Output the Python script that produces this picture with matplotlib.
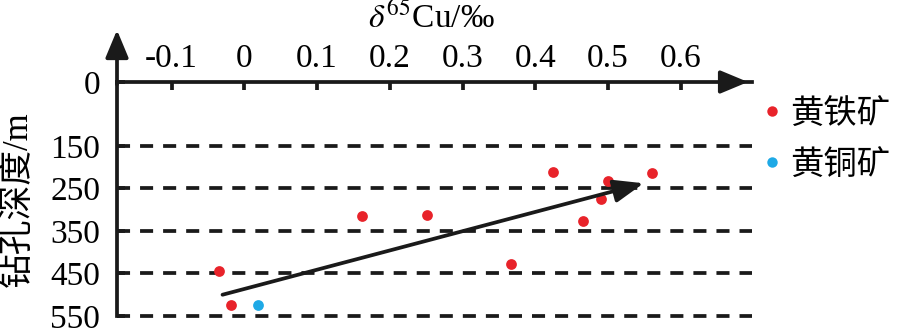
import matplotlib
matplotlib.use("Agg")
import matplotlib.pyplot as plt
from matplotlib.lines import Line2D

plt.rcParams['font.family'] = ['Liberation Serif', 'Noto Sans CJK SC']
plt.rcParams['mathtext.fontset'] = 'stix'
plt.rcParams['lines.scale_dashes'] = False

# pyrite (黄铁矿) samples: d65Cu (permil), drill depth (m)
py_cu = [-0.035, -0.018, 0.162, 0.251, 0.367, 0.424, 0.466, 0.491, 0.500, 0.561]
py_depth = [444, 524, 315, 313, 428, 212, 327, 275, 233, 214]
# chalcopyrite (黄铜矿)
cp_cu = [0.019]
cp_depth = [524]

# trend arrow
trend_start = (-0.030, 500)
trend_end = (0.549, 238)

xticks = [-0.1, 0, 0.1, 0.2, 0.3, 0.4, 0.5, 0.6]
xticklabels = ['-0.1', '0', '0.1', '0.2', '0.3', '0.4', '0.5', '0.6']
yticks = [0, 150, 250, 350, 450, 550]
grid_depths = [150, 250, 350, 450, 550]

red = '#e8232a'
blue = '#1ea9e6'
ink = '#1a1a1a'
lw = 2.7

fig = plt.figure(figsize=(9, 3.28), dpi=100)
ax = fig.add_axes([117 / 900, 1 - 316 / 328, (752 - 117) / 900, (316 - 82) / 328])

ax.set_xlim(-0.1751, 0.698)
ax.set_ylim(550, 0)

for d in grid_depths:
    ax.axhline(d, color=ink, lw=lw, dashes=(9.4, 7.2), clip_on=False, zorder=1)

ax.scatter(py_cu, py_depth, s=60, color=red, linewidths=0, zorder=3, label='黄铁矿')
ax.scatter(cp_cu, cp_depth, s=60, color=blue, linewidths=0, zorder=3, label='黄铜矿')

ax.annotate('', xy=trend_end, xytext=trend_start,
            arrowprops=dict(arrowstyle='-|>,head_length=1.3,head_width=0.5',
                            color=ink, lw=lw, mutation_scale=14, shrinkA=0, shrinkB=0),
            zorder=4)

# axes with arrow heads
for side in ['right', 'bottom']:
    ax.spines[side].set_visible(False)
for side in ['top', 'left']:
    ax.spines[side].set_linewidth(lw)
    ax.spines[side].set_color(ink)
ax.annotate('', xy=(0, 1.222), xytext=(0, 0.99), xycoords='axes fraction',
            arrowprops=dict(arrowstyle='-|>,head_length=1.2,head_width=0.5',
                            color=ink, lw=lw, mutation_scale=14, shrinkA=0, shrinkB=0),
            annotation_clip=False)
ax.annotate('', xy=(0.9937, 1), xytext=(0.95, 1), xycoords='axes fraction',
            arrowprops=dict(arrowstyle='-|>,head_length=1.2,head_width=0.5',
                            color=ink, lw=lw, mutation_scale=14, shrinkA=0, shrinkB=0),
            annotation_clip=False)

ax.xaxis.tick_top()
ax.set_xticks(xticks)
ax.set_xticklabels(xticklabels)
ax.set_yticks(yticks)
ax.tick_params(axis='x', direction='in', length=6, width=lw, color=ink, pad=6, labelsize=24)
ax.tick_params(axis='y', direction='in', length=6, width=lw, color=ink, pad=12, labelsize=24)

fig.text(431 / 900, 1 - 17 / 328, r'$\delta^{65}$Cu/‰', ha='center', va='center', fontsize=24)
fig.text(18 / 900, 1 - 199 / 328, '钻孔深度/m', rotation=90, ha='center', va='center', fontsize=25)

handles = [Line2D([], [], ls='', marker='o', ms=7.5, color=red, mec='none'),
           Line2D([], [], ls='', marker='o', ms=7.5, color=blue, mec='none')]
fig.legend(handles, ['黄铁矿', '黄铜矿'], loc='center left',
           bbox_to_anchor=(762 / 900, 1 - 140 / 328), frameon=False,
           prop={'size': 24}, handlelength=0.6, handletextpad=0.25,
           labelspacing=0.6, borderaxespad=0, borderpad=0)

fig.savefig('out.png', dpi=100)
